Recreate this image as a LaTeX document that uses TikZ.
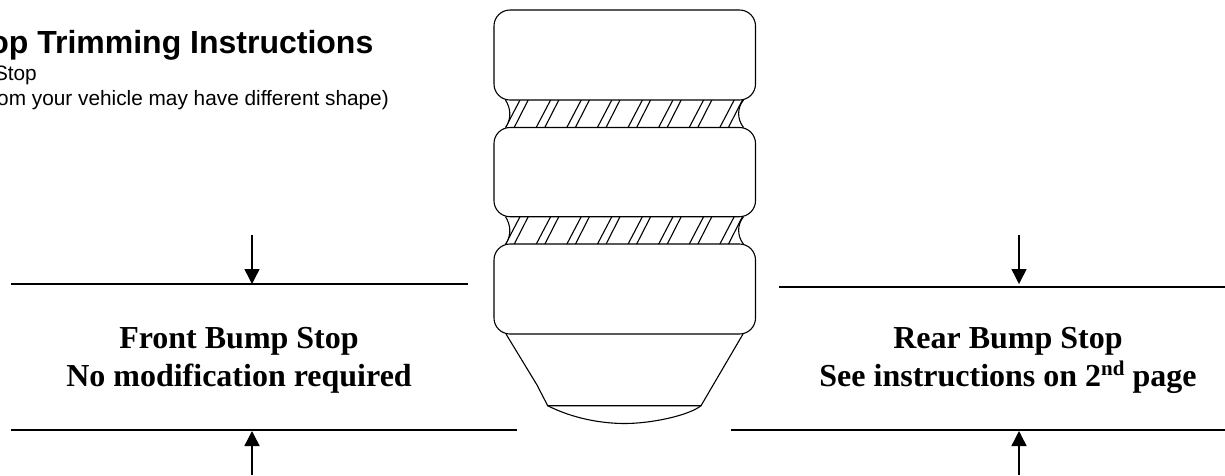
\documentclass[tikz,border=0pt]{standalone}
\usepackage{fontspec}
\setmainfont{Liberation Serif}
\newfontfamily\arialfont{Liberation Sans}
\usetikzlibrary{arrows.meta}
\tikzset{
  thin line/.style={draw=black,line width=1.1pt},
  rule line/.style={draw=black,line width=1.5pt},
  press arrow/.style={draw=black,line width=1.5pt,-{Triangle[length=15pt,width=15pt]},shorten >=0pt},
  heading/.style={anchor=base east,inner sep=0pt,font=\arialfont\fontsize{32}{32}\selectfont\bfseries},
  note/.style={anchor=base east,inner sep=0pt,font=\arialfont\fontsize{20.8}{20.8}\selectfont},
  caption/.style={align=center,inner sep=0pt,font=\fontsize{32}{38}\selectfont\bfseries}
}
\newcommand{\roundblock}[2]{%
  \draw[thin line,rounded corners=16pt] (494,#1) rectangle (755.5,#2);}
\newcommand{\neckband}[1]{%
  \begin{scope}[yshift=-#1pt]
    \begin{scope}
      \clip (505.5,100) .. controls (510.5,108) and (512,118) .. (505.5,127.5)
        -- (743.5,127.5) .. controls (737,118) and (738,108) .. (743.5,100) -- cycle;
      \foreach \k in {0,...,7}{
        \draw[thin line] ({520+30.6*\k},100) -- ({505.6+30.6*\k},127.5);
        \draw[thin line] ({528.2+30.6*\k},100) -- ({514.2+30.6*\k},127.5);
      }
    \end{scope}
    \draw[thin line] (505.5,100) .. controls (510.5,108) and (512,118) .. (505.5,127.5);
    \draw[thin line] (743.5,100) .. controls (737,108) and (737,119) .. (743.5,127.5);
  \end{scope}}
\begin{document}
\begin{tikzpicture}[x=1pt,y=-1pt]
\useasboundingbox (0,0) rectangle (1225,475);
\fill[white] (0,0) rectangle (1225,475);

\node[heading] (title) at (373.5,53) {op Trimming Instructions};
\node[note] (noteA) at (37,80) {Stop};
\node[note] (noteB) at (389,105.5) {om your vehicle may have different shape)};

\neckband{0}
\neckband{116.7}
\roundblock{10}{100}
\roundblock{127.5}{216.7}
\roundblock{244}{334}
\draw[thin line] (506,334) -- (537,385) -- (547.7,405.7) -- (701,405.7) -- (743,334);
\draw[thin line] (547.7,405.7) .. controls (572,418) and (600,423.5) .. (625,423.5)
  .. controls (650,423.5) and (688,416) .. (701,405.7);

\coordinate (fl1) at (11,284); \coordinate (fl2) at (468,284);
\coordinate (fl3) at (11,430); \coordinate (fl4) at (516.5,430);
\coordinate (rl1) at (779,287); \coordinate (rl2) at (1225,287);
\coordinate (rl3) at (731,430); \coordinate (rl4) at (1225,430);
\draw[rule line] (fl1) -- (fl2);
\draw[rule line] (fl3) -- (fl4);
\draw[rule line] (rl1) -- (rl2);
\draw[rule line] (rl3) -- (rl4);

\coordinate (fa1) at (252,235); \coordinate (fa2) at (252,284);
\coordinate (fa3) at (252,475); \coordinate (fa4) at (252,431);
\coordinate (ra1) at (1019,235); \coordinate (ra2) at (1019,284);
\coordinate (ra3) at (1019,475); \coordinate (ra4) at (1019,431);
\draw[press arrow] (fa1) -- (fa2);
\draw[press arrow] (fa3) -- (fa4);
\draw[press arrow] (ra1) -- (ra2);
\draw[press arrow] (ra3) -- (ra4);

\node[caption] (front) at (239,360) {Front Bump Stop\\No modification required};
\node[caption] (rear) at (1008,360) {Rear Bump Stop\\See instructions on 2\raisebox{11pt}{\fontsize{21}{21}\selectfont nd} page};
\end{tikzpicture}
\end{document}
